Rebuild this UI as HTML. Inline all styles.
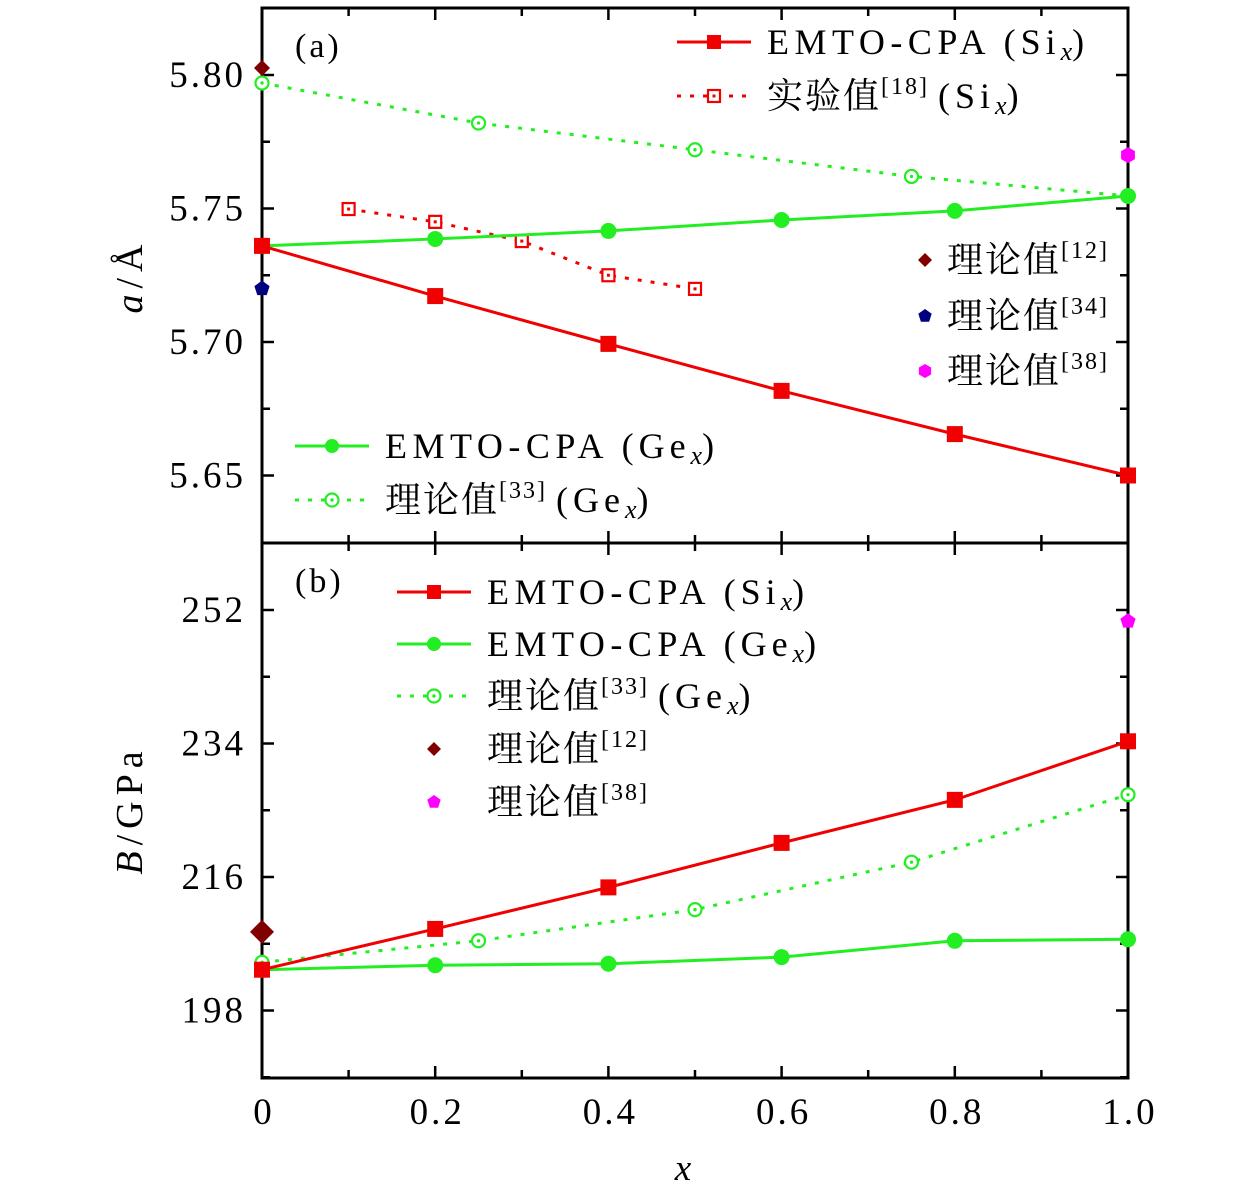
<!DOCTYPE html>
<html><head><meta charset="utf-8"><style>
body{margin:0;background:#fff}
svg{display:block}
text{font-family:"Liberation Serif","Noto Serif CJK SC",serif;fill:#000}
.cjk{font-family:"Liberation Serif","Noto Serif CJK SC","Noto Sans CJK SC",serif}
</style></head><body>
<svg id="chart" width="1260" height="1197" viewBox="0 0 1260 1197" xmlns="http://www.w3.org/2000/svg"></svg>
<script>
// x values
const xEmto=[0,0.2,0.4,0.6,0.8,1.0];
const xTheo33=[0,0.25,0.5,0.75,1.0];
const xExp=[0.1,0.2,0.3,0.4,0.5];
// panel (a) lattice constants
const aSi=[5.736,5.7172,5.6993,5.6817,5.6655,5.650];
const aGe=[5.736,5.7386,5.7416,5.7457,5.7491,5.7547];
const aGeTheo=[5.797,5.782,5.772,5.762,5.7547];
const aExpSi=[5.7498,5.745,5.7378,5.725,5.7199];
const aTheo12=[5.8026], aTheo34=[5.720], aTheo38=[5.770];
// panel (b) bulk moduli
const bSi=[203.5,209.0,214.6,220.6,226.4,234.3];
const bGe=[203.5,204.1,204.3,205.2,207.4,207.6];
const bGeTheo=[204.5,207.4,211.6,218.0,227.1];
const bTheo12=[208.6], bTheo38=[250.5];
const xTicks=[0,0.2,0.4,0.6,0.8,1.0];
const xTickLabels=["0","0.2","0.4","0.6","0.8","1.0"];
const aTicks=[5.65,5.70,5.75,5.80];
const aTickLabels=["5.65","5.70","5.75","5.80"];
const bTicks=[198,216,234,252];
const bTickLabels=["198","216","234","252"];

const NS="http://www.w3.org/2000/svg";
const svg=document.getElementById('chart');
function el(tag,attrs,parent){const e=document.createElementNS(NS,tag);for(const k in attrs)e.setAttribute(k,attrs[k]);(parent||svg).appendChild(e);return e;}
const X0=262,X1=1128;
const sx=v=>X0+(X1-X0)*v;
const syA=v=>75+(5.80-v)/0.05*133.5;
const syB=v=>610+(252-v)/18*133.5;
const RED="#f00000",GRN="#22ee22",BR="#800000",NAVY="#000080",MAG="#ff00ff";

function marker(type,x,y,color,g,s){
  s=s||8;let m;
  if(type==='sq')m=el('rect',{x:x-s,y:y-s,width:2*s,height:2*s,fill:color},g);
  else if(type==='circ')m=el('circle',{cx:x,cy:y,r:s,fill:color},g);
  else if(type==='osq'){m=el('rect',{x:x-6,y:y-6,width:12,height:12,fill:'#fff',stroke:color,'stroke-width':2.2},g);el('rect',{x:x-1.5,y:y-1.5,width:3,height:3,fill:color},g);}
  else if(type==='ocirc'){m=el('circle',{cx:x,cy:y,r:6.5,fill:'#fff',stroke:color,'stroke-width':2.2},g);el('circle',{cx:x,cy:y,r:1.7,fill:color},g);}
  else if(type==='dia')m=el('polygon',{points:`${x},${y-s} ${x+s},${y} ${x},${y+s} ${x-s},${y}`,fill:color},g);
  else if(type==='pent'){let p=[];for(let i=0;i<5;i++){const a=-Math.PI/2+i*2*Math.PI/5;p.push((x+s*Math.cos(a)).toFixed(1)+','+(y+s*Math.sin(a)).toFixed(1));}m=el('polygon',{points:p.join(' '),fill:color},g);}
  else if(type==='hex'){let p=[];for(let i=0;i<6;i++){const a=Math.PI/6+i*Math.PI/3;p.push((x+s*Math.cos(a)).toFixed(1)+','+(y+s*Math.sin(a)).toFixed(1));}m=el('polygon',{points:p.join(' '),fill:color},g);}
  
  
}
function series(name,xs,ys,sy,color,dash,mk,line){
  const g=el('g',{});
  
  
  if(line!==false){
    const pts=xs.map((x,i)=>sx(x)+','+sy(ys[i])).join(' ');
    const pl=el('polyline',{points:pts,fill:'none',stroke:color,'stroke-width':3,'stroke-dasharray':dash||'none'},g);
    
    
  }
  xs.forEach((x,i)=>marker(mk,sx(x),sy(ys[i]),color,g,mk==='dia'&&name==='b-theo12'?12:8));
}
function txt(s,x,y,size,anchor,name,cls,ls){const t=el('text',{x:x,y:y,'font-size':size,'text-anchor':anchor||'start'});t.innerHTML=s;if(cls)t.setAttribute('class',cls);if(ls)t.setAttribute('letter-spacing',ls);return t;}

// frames
const f1=el('rect',{x:X0,y:8,width:X1-X0,height:535,fill:'none',stroke:'#000','stroke-width':3});

const f2=el('rect',{x:X0,y:543,width:X1-X0,height:535,fill:'none',stroke:'#000','stroke-width':3});


// x ticks for both panels
for(let i=0;i<=10;i++){const x=sx(i/10),L=i%2===0?12:8;
 [[543,-1],[1078,-1],[8,1],[543,1]].forEach(([y,d])=>el('line',{x1:x,y1:y,x2:x,y2:y+d*L,stroke:'#000','stroke-width':2.5}));}
xTicks.forEach((v,i)=>txt(xTickLabels[i],sx(v)+2,1124,37,'middle','x-tick-label',null,3));
txt('<tspan font-style="italic">x</tspan>',683,1180,37,'middle','x-axis-title');
// y ticks a
aTicks.forEach((v,i)=>{const y=syA(v);el('line',{x1:X0,y1:y,x2:X0+12,y2:y,stroke:'#000','stroke-width':2.5});el('line',{x1:X1,y1:y,x2:X1-12,y2:y,stroke:'#000','stroke-width':2.5});txt(aTickLabels[i],246,y+12,37,'end','y-tick-label-a',null,3);});
[5.675,5.725,5.775].forEach(v=>{const y=syA(v);el('line',{x1:X0,y1:y,x2:X0+8,y2:y,stroke:'#000','stroke-width':2.5});el('line',{x1:X1,y1:y,x2:X1-8,y2:y,stroke:'#000','stroke-width':2.5});});
bTicks.forEach((v,i)=>{const y=syB(v);el('line',{x1:X0,y1:y,x2:X0+12,y2:y,stroke:'#000','stroke-width':2.5});el('line',{x1:X1,y1:y,x2:X1-12,y2:y,stroke:'#000','stroke-width':2.5});txt(bTickLabels[i],246,y+12,37,'end','y-tick-label-b',null,3);});
[189,207,225,243].forEach(v=>{const y=syB(v);if(y<1078){el('line',{x1:X0,y1:y,x2:X0+8,y2:y,stroke:'#000','stroke-width':2.5});el('line',{x1:X1,y1:y,x2:X1-8,y2:y,stroke:'#000','stroke-width':2.5});}});
// axis titles
let t=txt('<tspan font-style="italic">a</tspan>/Å',0,0,38,'middle','y-axis-title-a',null,6);t.setAttribute('transform','translate(142,276) rotate(-90)');
t=txt('<tspan font-style="italic">B</tspan>/GPa',0,0,38,'middle','y-axis-title-b',null,6);t.setAttribute('transform','translate(142,810) rotate(-90)');
txt('(a)',295,57,34,'start','panel-label-a',null,3);
txt('(b)',295,592,34,'start','panel-label-b',null,3);

// series a
series('a-ge-theo33',xTheo33,aGeTheo,syA,GRN,'4,9','ocirc');
series('a-exp-si',xExp,aExpSi,syA,RED,'4,9','osq');
series('a-ge-emto',xEmto,aGe,syA,GRN,null,'circ');
series('a-si-emto',xEmto,aSi,syA,RED,null,'sq');
series('a-theo12',[0],aTheo12,syA,BR,null,'dia',false);
series('a-theo34',[0],aTheo34,syA,NAVY,null,'pent',false);
series('a-theo38',[1],aTheo38,syA,MAG,null,'hex',false);
// series b
series('b-ge-theo33',xTheo33,bGeTheo,syB,GRN,'4,9','ocirc');
series('b-ge-emto',xEmto,bGe,syB,GRN,null,'circ');
series('b-si-emto',xEmto,bSi,syB,RED,null,'sq');
series('b-theo12',[0],bTheo12,syB,BR,null,'dia',false);
series('b-theo38',[1],bTheo38,syB,MAG,null,'pent',false);

// legends
function leg(x,y,color,dash,mk,label,name,noLine,tOff){
  const g=el('g',{});
  if(!noLine)el('line',{x1:x,y1:y,x2:x+74,y2:y,stroke:color,'stroke-width':3,'stroke-dasharray':dash||'none'},g);
  marker(mk,x+37,y,color,g,7);
  const tt=el('text',{x:x+(tOff||90),y:y+12,'font-size':36,class:'cjk'},g);tt.innerHTML=label;
}
const sup=s=>`<tspan font-size="24" dy="-14" letter-spacing="2">${s}</tspan><tspan dy="14"> </tspan>`;
const EM='<tspan letter-spacing="5.5">EMTO-CPA </tspan>';
const SIx='<tspan letter-spacing="5"> (Si</tspan><tspan font-size="26" font-style="italic" dy="6">x</tspan><tspan dy="-6">)</tspan>';
const GEx='<tspan letter-spacing="5"> (Ge</tspan><tspan font-size="26" font-style="italic" dy="6">x</tspan><tspan dy="-6">)</tspan>';
const TH='<tspan letter-spacing="2">理论值</tspan>';
leg(677,42,RED,null,'sq',EM+SIx,'legend-a-si-emto');
leg(677,96,RED,'4,9','osq','<tspan letter-spacing="2">实验值</tspan>'+sup('[18]')+SIx,'legend-a-exp');
leg(888,260,BR,null,'dia',TH+sup('[12]'),'legend-a-theo12',true,59);
leg(888,316,NAVY,null,'pent',TH+sup('[34]'),'legend-a-theo34',true,59);
leg(888,371,MAG,null,'hex',TH+sup('[38]'),'legend-a-theo38',true,59);
leg(295,446,GRN,null,'circ',EM+GEx,'legend-a-ge-emto');
leg(295,500,GRN,'4,9','ocirc',TH+sup('[33]')+GEx,'legend-a-ge-theo');
leg(397,592,RED,null,'sq',EM+SIx,'legend-b-si-emto');
leg(397,644,GRN,null,'circ',EM+GEx,'legend-b-ge-emto');
leg(397,696,GRN,'4,9','ocirc',TH+sup('[33]')+GEx,'legend-b-ge-theo');
leg(397,749,BR,null,'dia',TH+sup('[12]'),'legend-b-theo12',true,90);
leg(397,802,MAG,null,'pent',TH+sup('[38]'),'legend-b-theo38',true,90);
</script>
</body></html>
